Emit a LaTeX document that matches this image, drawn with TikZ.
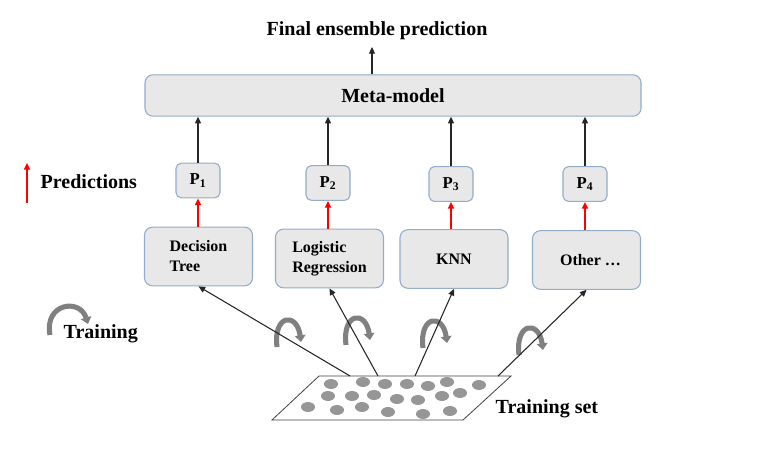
\documentclass[tikz,border=0pt]{standalone}
\usepackage{fontspec}
\setmainfont{Liberation Serif}
\usetikzlibrary{arrows.meta, positioning}
\definecolor{boxfill}{RGB}{232,232,233}
\definecolor{boxedge}{RGB}{146,172,204}
\definecolor{traingray}{RGB}{128,128,128}
\definecolor{dotgray}{RGB}{150,150,150}

\begin{document}
\begin{tikzpicture}[x=0.75pt, y=-0.75pt,
    metabox/.style={rectangle, rounded corners=6pt,
        minimum width=372pt, minimum height=31pt,
        fill=boxfill, draw=boxedge, line width=0.8pt,
        font=\fontsize{15}{18}\selectfont\bfseries},
    pbox/.style={rectangle, rounded corners=4pt,
        minimum width=33pt, minimum height=26pt,
        fill=boxfill, draw=boxedge, line width=0.8pt,
        font=\fontsize{12.5}{14}\selectfont\bfseries},
    modelbox/.style={rectangle, rounded corners=6pt,
        minimum width=81pt, minimum height=44pt, align=left,
        fill=boxfill, draw=boxedge, line width=0.8pt,
        font=\fontsize{12}{15}\selectfont\bfseries},
    bigtext/.style={font=\fontsize{15}{18}\selectfont\bfseries},
    blarrow/.style={-{Triangle[length=5pt,width=4.5pt]}, line width=0.8pt, black!85},
    redarrow/.style={-{Triangle[length=5pt,width=4.5pt]}, line width=1.2pt, red},
    trainline/.style={-{Triangle[length=5pt,width=8pt]}, line width=3.8pt, traingray},
]
\useasboundingbox (0,0) rectangle (783,452);

% ── META-MODEL AND OUTPUT ───────────────────────────────────────────────────
\node[metabox] at (393,95.5) (meta) {Meta-model};
\node[bigtext] at (377,31)   (final) {Final ensemble prediction};
\draw[blarrow] (meta.north -| 372,0) -- (372,47);

% ── PREDICTIONS ─────────────────────────────────────────────────────────────
\node[pbox] at (198,180.5) (p1) {P\textsubscript{1}};
\node[pbox] at (328,183)   (p2) {P\textsubscript{2}};
\node[pbox] at (451,184)   (p3) {P\textsubscript{3}};
\node[pbox] at (585,184)   (p4) {P\textsubscript{4}};

% ── BASE MODELS ─────────────────────────────────────────────────────────────
\node[modelbox] at (198.5,256.5) (dt)  {Decision\\Tree};
\node[modelbox] at (329.5,258.5) (lr)  {Logistic\\Regression};
\node[modelbox] at (454,259)     (knn) {KNN};
\node[modelbox] at (586.5,260)   (oth) {\hspace{6pt}Other \ldots};

\foreach \p/\m in {p1/dt, p2/lr, p3/knn, p4/oth} {
    \draw[blarrow] (\p.north) -- (\p.north |- meta.south);
    \draw[redarrow] (\p.south |- \m.north) -- (\p.south);
}

% ── TRAINING SET ────────────────────────────────────────────────────────────
\draw[line width=0.6pt, black!75] (319,376) -- (511,376) -- (463,420) -- (272,420) -- cycle;
\foreach \dx/\dy in {331/384, 363/382, 385/384, 407/384, 428/386, 447/382, 479/385,
                     328/396, 352/396, 374/395, 397/399, 418/400, 442/396, 460/393,
                     308/407, 337/410, 362/407, 388/412, 423/414, 450/411}
    \fill[dotgray] (\dx,\dy) ellipse (7 and 5);
\node[bigtext, anchor=west] at (491,409) (tset) {Training set};

\coordinate (t1) at (350,376);
\coordinate (t2) at (378,376);
\coordinate (t3) at (415,376);
\coordinate (t4) at (498,376);

% training arrows sit under the connectors
\foreach \cx/\cy in {289/334, 358/332, 435/335, 531/342}
    \draw[trainline] (\cx-12,\cy+13) .. controls (\cx-16,\cy-20) and (\cx+8,\cy-22) .. (\cx+12,\cy+8);

\draw[blarrow] (t1) -- (dt.south);
\draw[blarrow] (t2) -- (lr.south);
\draw[blarrow] (t3) -- (knn.south);
\draw[blarrow] (t4) -- (oth.south);

% ── LEGEND ──────────────────────────────────────────────────────────────────
\coordinate (rbot) at (27,203);
\coordinate (rtop) at (27,163);
\draw[redarrow] (rbot) -- (rtop);
\node[bigtext, anchor=west] at (36,182) (pred) {Predictions};

\draw[trainline] (50,335) .. controls (44,303) and (80,298) .. (88,324);
\node[bigtext, anchor=west] at (59,334) (train) {Training};

\end{tikzpicture}
\end{document}
